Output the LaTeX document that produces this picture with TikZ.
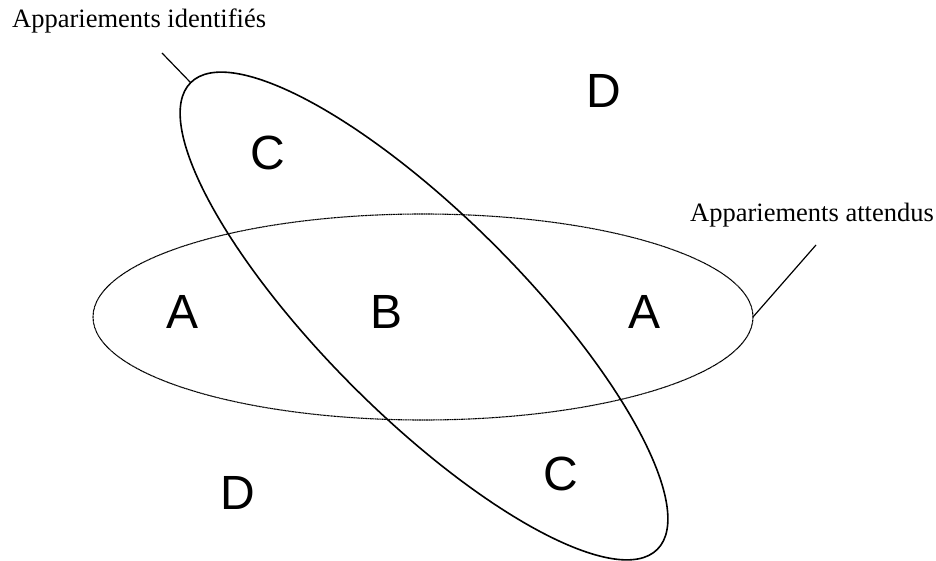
\documentclass[tikz,border=0pt]{standalone}
\usepackage{fontspec}
\setmainfont{Liberation Serif}
\newfontfamily\arialf{Liberation Sans}
\usetikzlibrary{shapes.geometric}
\begin{document}
\begin{tikzpicture}[x=1pt,y=1pt,
  setshape/.style={ellipse, inner sep=0pt, outer sep=0pt, minimum width=660pt},
  dotline/.style={line width=1.1pt, dash pattern=on 1pt off 0.4pt},
  solidline/.style={line width=1.6pt},
  leader/.style={line width=1.2pt},
  region/.style={font=\arialf\fontsize{48}{56}\selectfont, inner sep=0pt},
  caption/.style={font=\fontsize{26.5}{31}\selectfont, inner sep=0pt, anchor=base west}]
\useasboundingbox (0,0) rectangle (936,560);
\coordinate (c1) at (423,243);
\coordinate (c2) at (424,244);
\node[setshape, draw, dotline, minimum height=206pt] (att) at (c1) {};
\node[setshape, draw, solidline, minimum height=200pt, rotate=-45] (idf) at (c2) {};
\coordinate (lidf) at (162,507);
\coordinate (latt) at (816,315);
\draw[leader] (idf.west) -- (lidf);
\draw[leader] (att.east) -- (latt);
\node[caption] (tidf) at (12,532) {Appariements identifiés};
\node[caption] (tatt) at (690,338) {Appariements attendus};
\node[region] (c1l) at (268,407) {C};
\node[region] (d1l) at (604,469) {D};
\node[region] (a1l) at (183,248) {A};
\node[region] (bl) at (387,248) {B};
\node[region] (a2l) at (644,248) {A};
\node[region] (c2l) at (561,86) {C};
\node[region] (d2l) at (238,67) {D};
\end{tikzpicture}
\end{document}
